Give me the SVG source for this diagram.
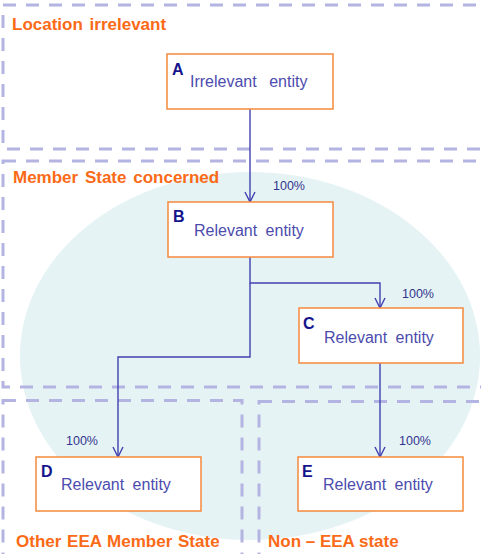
<svg xmlns="http://www.w3.org/2000/svg" width="481" height="554" viewBox="0 0 481 554">
  <style>
    .zone { fill: none; stroke: #b4b4e2; stroke-width: 3; stroke-dasharray: 13 10; }
    .zone-title { font-family: "Liberation Sans", Arial, sans-serif; font-size: 17px; font-weight: bold; fill: #fb6a17; word-spacing: 2px; }
    .box { fill: #ffffff; stroke: #f5893d; stroke-width: 1.5; }
    .letter { font-family: "Liberation Sans", Arial, sans-serif; font-size: 16px; font-weight: bold; fill: #14148c; }
    .name { font-family: "Liberation Sans", Arial, sans-serif; font-size: 16px; fill: #4c4cae; word-spacing: 4px; }
    .pct { font-family: "Liberation Sans", Arial, sans-serif; font-size: 12.5px; fill: #33338f; }
    .link { fill: none; stroke: #4141b0; stroke-width: 1.4; }
  </style>
  <defs>
    <marker id="arrow" viewBox="0 0 12 12" refX="11" refY="6" markerWidth="12" markerHeight="12" markerUnits="userSpaceOnUse" orient="auto">
      <path d="M1,1 L11,6 L1,11" fill="none" stroke="#4141b0" stroke-width="1.4"/>
    </marker>
  </defs>

  <rect width="481" height="554" fill="#ffffff"/>

  <!-- member-state area backdrop -->
  <ellipse cx="250" cy="356" rx="230" ry="184" fill="#e5f3f4"/>

  <!-- zones -->
  <g id="zone-location">
    <rect class="zone" x="3" y="5" width="500" height="144"/>
    <text class="zone-title" x="12" y="30">Location irrelevant</text>
  </g>
  <g id="zone-member">
    <rect class="zone" x="3" y="161" width="500" height="226"/>
    <text class="zone-title" x="13" y="183">Member State concerned</text>
  </g>
  <g id="zone-other-eea">
    <rect class="zone" x="3" y="400.5" width="239" height="200"/>
    <text class="zone-title" x="16" y="547" style="word-spacing:1px">Other EEA Member State</text>
  </g>
  <g id="zone-non-eea">
    <rect class="zone" x="259" y="401.5" width="250" height="200"/>
    <text class="zone-title" x="268" y="547" style="word-spacing:0">Non – EEA state</text>
  </g>

  <!-- connectors -->
  <g id="connectors">
    <path class="link" d="M250,109 V202" marker-end="url(#arrow)"/>
    <path class="link" d="M250,257 V283 H380 V308" marker-end="url(#arrow)"/>
    <path class="link" d="M250,283 V357 H118 V457" marker-end="url(#arrow)"/>
    <path class="link" d="M380,363 V457" marker-end="url(#arrow)"/>
    <text class="pct" x="273" y="190">100%</text>
    <text class="pct" x="402" y="298">100%</text>
    <text class="pct" x="66" y="445">100%</text>
    <text class="pct" x="399" y="445">100%</text>
  </g>

  <!-- entities -->
  <g id="node-a">
    <rect class="box" x="167" y="54" width="166" height="55"/>
    <text class="letter" x="172" y="75">A</text>
    <text class="name" x="190" y="87" style="word-spacing:8px">Irrelevant entity</text>
  </g>
  <g id="node-b">
    <rect class="box" x="168" y="202" width="165" height="55"/>
    <text class="letter" x="173" y="222">B</text>
    <text class="name" x="194" y="236">Relevant entity</text>
  </g>
  <g id="node-c">
    <rect class="box" x="299" y="308" width="164" height="55"/>
    <text class="letter" x="303" y="329">C</text>
    <text class="name" x="324" y="343">Relevant entity</text>
  </g>
  <g id="node-d">
    <rect class="box" x="36" y="457" width="165" height="54"/>
    <text class="letter" x="41" y="477">D</text>
    <text class="name" x="61" y="490">Relevant entity</text>
  </g>
  <g id="node-e">
    <rect class="box" x="298" y="457" width="165" height="54"/>
    <text class="letter" x="302" y="477">E</text>
    <text class="name" x="323" y="490">Relevant entity</text>
  </g>
</svg>
